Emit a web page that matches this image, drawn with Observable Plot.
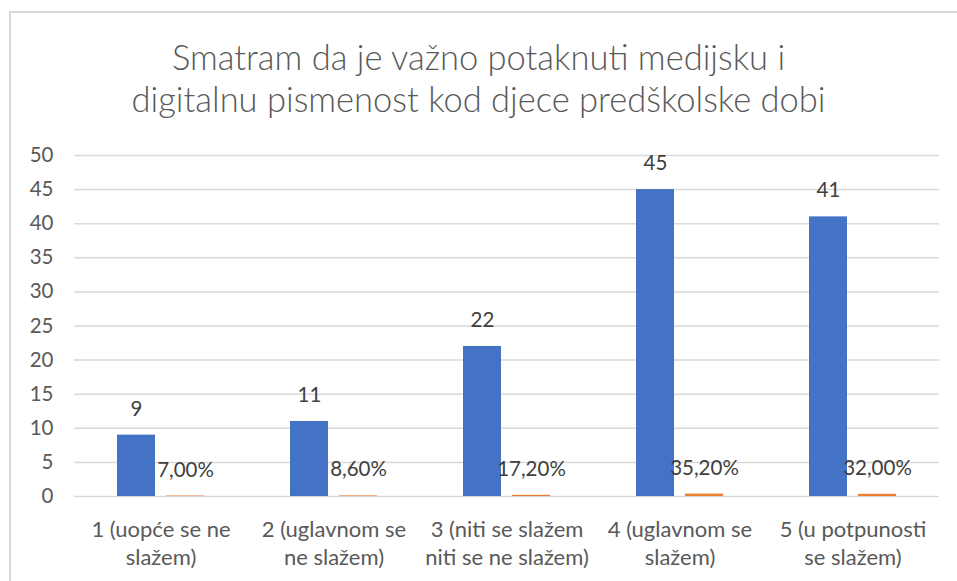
<!DOCTYPE html>
<html><head><meta charset="utf-8">
<script src="https://cdn.jsdelivr.net/npm/d3@7"></script>
<script src="https://cdn.jsdelivr.net/npm/@observablehq/plot@0.6"></script>
<style>
html,body{margin:0;padding:0;background:#fff;width:957px;height:581px;overflow:hidden;}
body{position:relative;font-family:Lato,"Open Sans",sans-serif;}
#frame{position:absolute;left:9px;top:11px;width:960px;height:580px;border-left:2px solid #d9d9d9;border-top:2px solid #d9d9d9;}
#title{position:absolute;top:36px;left:0;width:957px;text-align:center;font-family:Lato,sans-serif;font-weight:300;font-size:34.5px;line-height:42px;color:#595959;}
#chart{position:absolute;top:140px;left:0;}
</style></head>
<body>
<div id="frame"></div>
<div id="title">Smatram da je važno potaknuti medijsku i<br>digitalnu pismenost kod djece predškolske dobi</div>
<div id="chart"></div>
<script>
const categories = ["1 (uopće se ne slažem)", "2 (uglavnom se ne slažem)", "3 (niti se slažem niti se ne slažem)", "4 (uglavnom se slažem)", "5 (u potpunosti se slažem)"];
const tickLabels = ["1 (uopće se ne\nslažem)", "2 (uglavnom se\nne slažem)", "3 (niti se slažem\nniti se ne slažem)", "4 (uglavnom se\nslažem)", "5 (u potpunosti\nse slažem)"];
const series = ["Broj", "Postotak"];
const counts = [9, 11, 22, 45, 41];
const percents = [0.07, 0.086, 0.172, 0.352, 0.32];
const percentLabels = ["7,00%", "8,60%", "17,20%", "35,20%", "32,00%"];
const yTicks = [0, 5, 10, 15, 20, 25, 30, 35, 40, 45, 50];

const rows = [];
categories.forEach((c, i) => {
  rows.push({cat: c, s: series[0], v: counts[i], label: String(counts[i])});
  rows.push({cat: c, s: series[1], v: percents[i], label: percentLabels[i]});
});

const chart = Plot.plot({
  width: 957,
  height: 441,
  marginTop: 15,
  marginBottom: 85,
  marginLeft: 73,
  marginRight: 17,
  style: {fontFamily: "Lato, 'Open Sans', sans-serif", background: "transparent", overflow: "visible"},
  fx: {domain: categories, padding: 0, label: null, axis: null},
  x: {domain: series, axis: null, paddingInner: 0.22, paddingOuter: 0.86},
  y: {domain: [0, 50], label: null, axis: null},
  color: {domain: series, range: ["#4472C4", "#ED7D31"]},
  marks: [
    Plot.gridY(yTicks, {stroke: "#d9d9d9", strokeOpacity: 1, strokeWidth: 1.5}),
    Plot.axisY(yTicks, {anchor: "left", tickSize: 0, tickPadding: 21, fontSize: 20.5, fill: "#595959", label: null}),
    Plot.axisFx({anchor: "bottom", tickSize: 0, tickPadding: 20, fontSize: 22, fill: "#595959", lineHeight: 1.28, label: null,
      tickFormat: d => tickLabels[categories.indexOf(d)]}),
    Plot.barY(rows, {fx: "cat", x: "s", y: "v", fill: "s"}),
    Plot.text(rows, {fx: "cat", x: "s", y: "v", text: "label", dy: -26, fontSize: 20.5, fill: "#404040"})
  ]
});
document.getElementById("chart").appendChild(chart);
</script>
</body></html>
